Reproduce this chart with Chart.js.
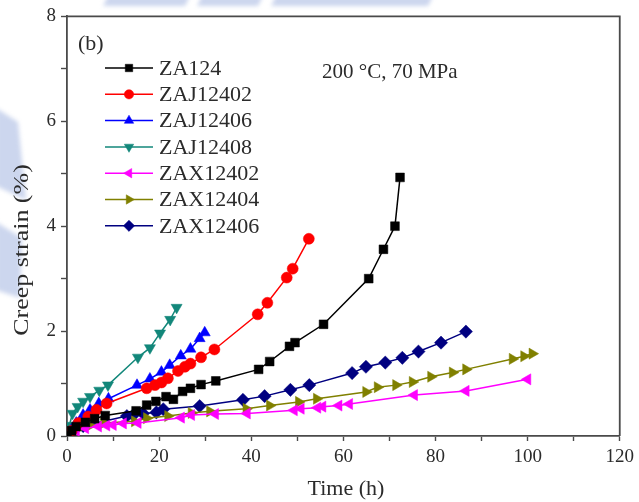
<!DOCTYPE html>
<html>
<head>
<meta charset="utf-8">
<script src="https://cdn.jsdelivr.net/npm/chart.js@4.4.1/dist/chart.umd.min.js"></script>
<style>
  html, body { margin: 0; padding: 0; background: #fff; }
  #wrap { width: 639px; height: 502px; }
</style>
</head>
<body>
<div id="wrap"><canvas id="creep"></canvas></div>
<script>
// Creep curves at 200 °C / 70 MPa, time in hours, strain in %
const seriesNames = ['ZA124', 'ZAJ12402', 'ZAJ12406', 'ZAJ12408', 'ZAX12402', 'ZAX12404', 'ZAX12406'];

const za124Time   = [0, 1, 2, 4, 6, 8.3, 15, 17.3, 19.3, 21.5, 23.1, 25.1, 26.8, 29.1, 32.3, 41.6, 44, 48.3, 49.5, 55.7, 65.5, 68.7, 71.2, 72.3];
const za124Strain = [0, 0.1, 0.18, 0.26, 0.33, 0.39, 0.48, 0.59, 0.66, 0.75, 0.70, 0.85, 0.91, 0.98, 1.05, 1.27, 1.42, 1.71, 1.78, 2.13, 3.0, 3.56, 4.0, 4.93];

const zaj12402Time   = [0, 1, 2.5, 4.6, 6.4, 8.6, 17.3, 19.1, 20.5, 21.9, 24.1, 25.6, 26.8, 29.1, 32, 41.4, 43.5, 47.7, 49, 52.5];
const zaj12402Strain = [0, 0.1, 0.25, 0.37, 0.5, 0.62, 0.91, 0.97, 1.02, 1.10, 1.24, 1.32, 1.38, 1.50, 1.65, 2.32, 2.54, 3.02, 3.19, 3.76];

const zaj12406Time   = [0, 1, 2, 3.5, 5, 6.9, 9, 15.2, 18, 20.5, 22.3, 24.7, 26.8, 28.8, 29.9];
const zaj12406Strain = [0, 0.12, 0.25, 0.4, 0.5, 0.62, 0.71, 0.97, 1.09, 1.22, 1.35, 1.53, 1.66, 1.86, 1.97];

const zaj12408Time   = [0, 0.5, 1.2, 2.3, 3.5, 5, 7, 8.9, 15.4, 18, 20.2, 22.4, 23.8];
const zaj12408Strain = [0, 0.2, 0.43, 0.56, 0.66, 0.75, 0.87, 0.97, 1.5, 1.68, 1.96, 2.22, 2.45];

const zax12402Time   = [0, 2, 4, 6.8, 8.6, 10, 12.2, 15.4, 24.8, 27, 32.2, 39.1, 49.3, 50.8, 54.4, 55.5, 59, 61.3, 75.4, 86.6, 100];
const zax12402Strain = [0, 0.1, 0.15, 0.18, 0.2, 0.21, 0.24, 0.25, 0.35, 0.40, 0.42, 0.43, 0.49, 0.52, 0.54, 0.56, 0.58, 0.61, 0.78, 0.86, 1.08];

const zax12404Time   = [0, 2, 5, 8, 14.7, 17.3, 21.9, 27, 31, 38.9, 44, 50.3, 54.2, 64.9, 67.4, 71.4, 75, 79, 83.7, 86.6, 96.7, 99.2, 101];
const zax12404Strain = [0, 0.12, 0.2, 0.25, 0.28, 0.34, 0.38, 0.44, 0.47, 0.52, 0.58, 0.65, 0.71, 0.84, 0.93, 0.97, 1.03, 1.13, 1.21, 1.27, 1.47, 1.52, 1.57];

const zax12406Time   = [0, 1.4, 3.5, 13, 14.4, 16.5, 19.4, 20.9, 28.8, 38.2, 42.9, 48.5, 52.6, 61.9, 64.9, 69.1, 72.8, 76.3, 81.2, 86.6];
const zax12406Strain = [0, 0.11, 0.19, 0.38, 0.40, 0.43, 0.45, 0.51, 0.57, 0.69, 0.76, 0.88, 0.97, 1.2, 1.32, 1.40, 1.49, 1.61, 1.78, 1.99];

const xTicks = [0, 20, 40, 60, 80, 100, 120];
const yTicks = [0, 2, 4, 6, 8];

const conditionText = '200 °C, 70 MPa';
const panelText = '(b)';

const serif = '"Liberation Serif", "DejaVu Serif", serif';
const frameColor = '#4a4a4a';
const textColor = '#2b2b2b';

function pairs(xs, ys) {
    return xs.map((x, i) => ({ x: x, y: ys[i] }));
}

const styles = [
    { color: '#000000', pointStyle: 'rect',     rotation: 0,   radius: 6.2 },
    { color: '#ff0000', pointStyle: 'circle',   rotation: 0,   radius: 5.5 },
    { color: '#0000ff', pointStyle: 'triangle', rotation: 0,   radius: 6.4 },
    { color: '#12877a', pointStyle: 'triangle', rotation: 180, radius: 6.4 },
    { color: '#ff00ff', pointStyle: 'triangle', rotation: 270, radius: 6.4 },
    { color: '#808000', pointStyle: 'triangle', rotation: 90,  radius: 6.4 },
    { color: '#000080', pointStyle: 'rectRot',  rotation: 0,   radius: 6.6 }
];

const seriesData = [
    pairs(za124Time, za124Strain),
    pairs(zaj12402Time, zaj12402Strain),
    pairs(zaj12406Time, zaj12406Strain),
    pairs(zaj12408Time, zaj12408Strain),
    pairs(zax12402Time, zax12402Strain),
    pairs(zax12404Time, zax12404Strain),
    pairs(zax12406Time, zax12406Strain)
];

const datasets = seriesNames.map((name, i) => ({
    label: name,
    data: seriesData[i],
    showLine: true,
    borderColor: styles[i].color,
    backgroundColor: styles[i].color,
    borderWidth: 1.5,
    pointStyle: styles[i].pointStyle,
    rotation: styles[i].rotation,
    pointRadius: styles[i].radius,
    pointBorderWidth: 0.5,
    tension: 0
}));

// Page background with the faint blue stripes and a white plot area
const backdrop = {
    id: 'backdrop',
    beforeDraw(chart) {
        const ctx = chart.ctx;
        const a = chart.chartArea;
        ctx.save();
        ctx.fillStyle = '#ffffff';
        ctx.fillRect(0, 0, chart.width, chart.height);
        ctx.filter = 'blur(2px)';
        ctx.fillStyle = 'rgba(170, 186, 226, 0.6)';
        const bands = [
            [[103, 6], [108, -4], [190, -4], [185, 6]],
            [[197, 6], [202, -4], [263, -4], [258, 6]],
            [[271, 6], [276, -4], [433, -4], [428, 6]],
            [[-4, 108], [18, 122], [26, 200], [-4, 186]],
            [[-4, 222], [22, 238], [20, 298], [-4, 290]]
        ];
        bands.forEach(b => {
            ctx.beginPath();
            ctx.moveTo(b[0][0], b[0][1]);
            for (let k = 1; k < b.length; k++) ctx.lineTo(b[k][0], b[k][1]);
            ctx.closePath();
            ctx.fill();
        });
        ctx.filter = 'none';
        ctx.fillStyle = '#ffffff';
        ctx.fillRect(a.left, a.top, a.right - a.left, a.bottom - a.top);
        ctx.restore();
    },
    afterDraw(chart) {
        const ctx = chart.ctx;
        const a = chart.chartArea;
        ctx.save();
        // frame on the top and right
        ctx.strokeStyle = frameColor;
        ctx.lineWidth = 1.8;
        ctx.beginPath();
        ctx.moveTo(a.left, a.top);
        ctx.lineTo(a.right, a.top);
        ctx.lineTo(a.right, a.bottom);
        ctx.stroke();

        // axis titles
        ctx.fillStyle = textColor;
        ctx.font = '22px ' + serif;
        ctx.textAlign = 'center';
        ctx.textBaseline = 'middle';
        ctx.fillText('Time (h)', 346, 489);
        ctx.save();
        ctx.translate(22, 250);
        ctx.rotate(-Math.PI / 2);
        ctx.scale(1.18, 1);
        ctx.fillText('Creep strain (%)', 0, 0);
        ctx.restore();

        // panel label and test condition
        ctx.textAlign = 'left';
        ctx.font = '22px ' + serif;
        ctx.fillText(panelText, 78, 44);
        ctx.font = '21px ' + serif;
        ctx.fillText(conditionText, 322, 72);

        // legend
        ctx.font = '22px ' + serif;
        chart.data.datasets.forEach((ds, i) => {
            const y = 68 + i * 26.3;
            ctx.strokeStyle = ds.borderColor;
            ctx.fillStyle = ds.backgroundColor;
            ctx.lineWidth = 1.5;
            ctx.beginPath();
            ctx.moveTo(105, y);
            ctx.lineTo(153, y);
            ctx.stroke();
            ctx.lineWidth = 0.5;
            Chart.helpers.drawPoint(ctx, {
                pointStyle: ds.pointStyle,
                rotation: ds.rotation,
                radius: ds.pointRadius * 0.85,
                borderWidth: 0.5
            }, 129, y);
            ctx.fillStyle = textColor;
            ctx.fillText(ds.label, 159, y + 1);
        });
        ctx.restore();
    }
};

new Chart(document.getElementById('creep'), {
    type: 'scatter',
    data: { datasets: datasets },
    options: {
        responsive: true,
        maintainAspectRatio: false,
        animation: false,
        layout: { padding: { top: 16, right: 18, left: 0, bottom: 0 } },
        plugins: {
            legend: { display: false },
            tooltip: { enabled: false }
        },
        scales: {
            x: {
                type: 'linear',
                min: xTicks[0],
                max: xTicks[xTicks.length - 1],
                afterFit(scale) { scale.height = 66; },
                border: { color: frameColor, width: 1.8 },
                grid: { drawOnChartArea: false, tickLength: 5, tickColor: frameColor, tickWidth: 1.4 },
                ticks: {
                    stepSize: 10,
                    padding: 5,
                    color: textColor,
                    font: { family: serif, size: 19 },
                    callback: v => xTicks.includes(v) ? v : ''
                }
            },
            y: {
                type: 'linear',
                min: yTicks[0],
                max: yTicks[yTicks.length - 1],
                afterFit(scale) { scale.width = 67; },
                border: { color: frameColor, width: 1.8 },
                grid: { drawOnChartArea: false, tickLength: 6, tickColor: frameColor, tickWidth: 1.4 },
                ticks: {
                    stepSize: 1,
                    padding: 5,
                    color: textColor,
                    font: { family: serif, size: 19 },
                    callback: v => yTicks.includes(v) ? v : ''
                }
            }
        }
    },
    plugins: [backdrop]
});
</script>
</body>
</html>
